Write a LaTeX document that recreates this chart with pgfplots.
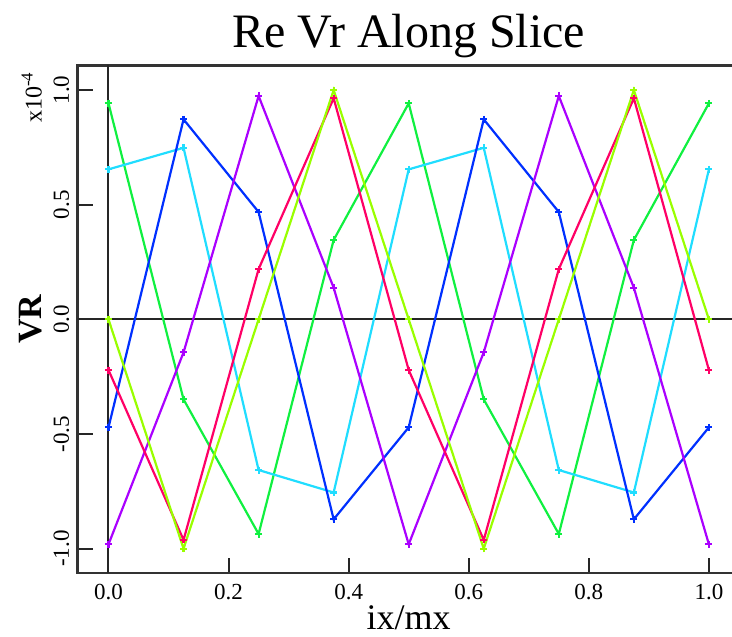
\documentclass[border=0pt]{standalone}
\usepackage{pgfplots}
\pgfplotsset{compat=1.18}
\usepackage{pgfplotstable}
\usepackage{fontspec}
\setmainfont{Liberation Serif}

\definecolor{cgreen}{HTML}{10F040}
\definecolor{ccyan}{HTML}{20DDFF}
\definecolor{cblue}{HTML}{0030FF}
\definecolor{cpurple}{HTML}{AA00FF}
\definecolor{cpink}{HTML}{FF0066}
\definecolor{clime}{HTML}{99FF00}

% values in units of 1e-4
\pgfplotstableread{
x      green   cyan    blue    purple  pink    lime
0      0.942   0.654  -0.471  -0.981  -0.221   0.0
0.125 -0.349   0.748   0.872  -0.144  -0.962  -1.0
0.25  -0.936  -0.657   0.468   0.974   0.219   0.0
0.375  0.346  -0.755  -0.872   0.138   0.964   1.0
0.5    0.942   0.654  -0.471  -0.981  -0.221   0.0
0.625 -0.349   0.748   0.872  -0.144  -0.962  -1.0
0.75  -0.936  -0.657   0.468   0.974   0.219   0.0
0.875  0.346  -0.755  -0.872   0.138   0.964   1.0
1.0    0.942   0.654  -0.471  -0.981  -0.221   0.0
}\slice

\begin{document}
\begin{tikzpicture}
\begin{axis}[name=ax,
  scale only axis, width=662pt, height=507.3pt,
  xmin=-0.0513, xmax=1.0513, ymin=-1.106, ymax=1.106,
  xtick={0,0.2,0.4,0.6,0.8,1}, ytick={-1,-0.5,0,0.5,1},
  scaled ticks=false,
  /pgf/number format/fixed, /pgf/number format/fixed zerofill,
  /pgf/number format/precision=1, /pgf/number format/assume math mode=true,
  tick align=inside, xtick pos=bottom, ytick pos=left,
  major tick length=15pt,
  every tick/.style={line width=2pt, black!85},
  axis line style={line width=2.4pt, black!80},
  ticklabel style={font=\fontsize{23}{24}\selectfont},
  yticklabel style={rotate=90, anchor=south, yshift=5pt},
  xticklabel style={yshift=-8pt},
  title={Re Vr Along Slice},
  title style={font=\fontsize{48}{50}\selectfont, at={(0.5,1)}, anchor=base, yshift=12pt},
  xlabel={ix/mx},
  xlabel style={font=\fontsize{36}{38}\selectfont, at={(0.5,0)}, anchor=base, yshift=-57pt},
  ylabel={VR},
  ylabel style={font=\bfseries\fontsize{34}{36}\selectfont, at={(0,0.5)}, anchor=base, yshift=36pt},
  every axis plot/.append style={line width=2.2pt, mark=+, mark size=3.5pt},
]
\addplot[black!85, line width=2pt, mark=none, forget plot] coordinates {(-0.1,0) (1.1,0)};
\addplot[black!85, line width=2pt, mark=none, forget plot] coordinates {(0,-1.2) (0,1.2)};
\addplot[cgreen]  table[x=x, y=green]  {\slice};
\addplot[ccyan]   table[x=x, y=cyan]   {\slice};
\addplot[cblue]   table[x=x, y=blue]   {\slice};
\addplot[cpurple] table[x=x, y=purple] {\slice};
\addplot[cpink]   table[x=x, y=pink]   {\slice};
\addplot[clime]   table[x=x, y=lime]   {\slice};
\end{axis}
\node[rotate=90, anchor=base, font=\fontsize{24}{26}\selectfont]
  at ([shift={(-36pt,-32pt)}]ax.north west) {x10\textsuperscript{-4}};
\pgfresetboundingbox
\path[use as bounding box] ([shift={(-77.7pt,-64pt)}]ax.south west) rectangle ([shift={(654.3pt,65.7pt)}]ax.north west);
\end{tikzpicture}
\end{document}
